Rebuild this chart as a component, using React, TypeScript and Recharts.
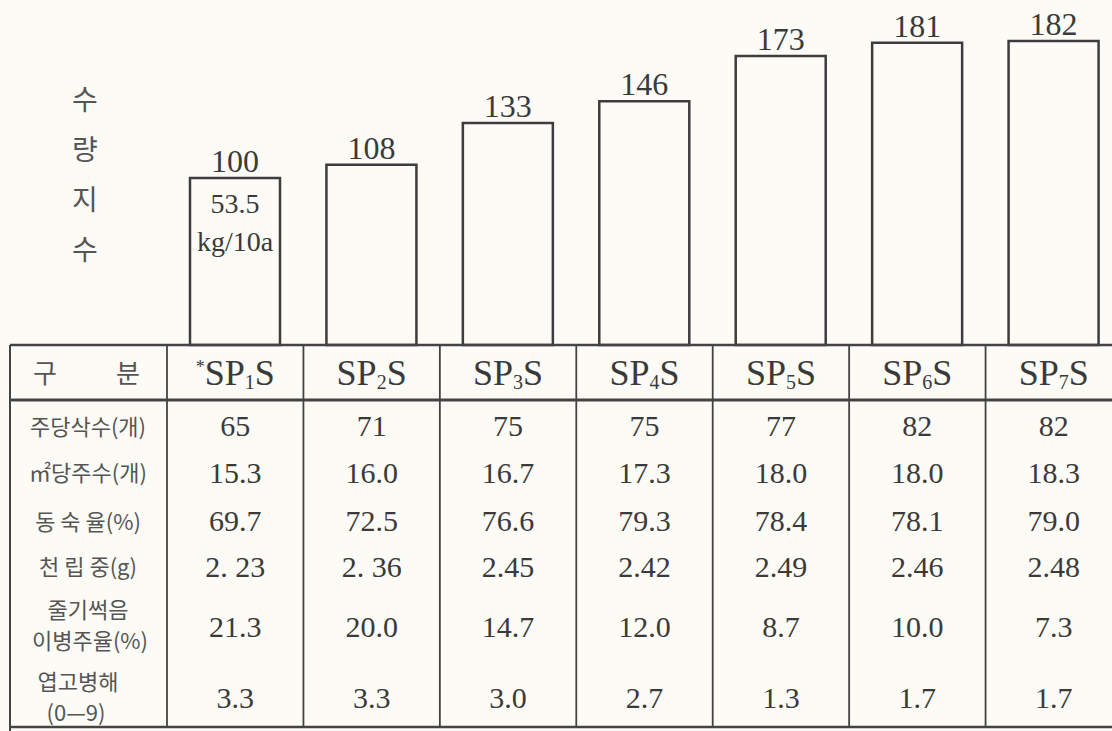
import React from "react";
import { Bar, BarChart, LabelList, XAxis, YAxis } from "recharts";

// 수량지수 (SP1S = 100)
const categories = ["SP1S", "SP2S", "SP3S", "SP4S", "SP5S", "SP6S", "SP7S"];
const yieldIndex = [100, 108, 133, 146, 173, 181, 182];
const baseYield = "53.5";
const baseYieldUnit = "kg/10a";
const yLabelChars = ["수", "량", "지", "수"];

// table rows under the bars
const rowLabels = [
  ["주당삭수(개)"],
  ["㎡당주수(개)"],
  ["동 숙 율(%)"],
  ["천 립 중(g)"],
  ["줄기썩음", "이병주율(%)"],
  ["엽고병해", "(0—9)"],
];
const seedsPerPlant = ["65", "71", "75", "75", "77", "82", "82"];
const plantsPerM2 = ["15.3", "16.0", "16.7", "17.3", "18.0", "18.0", "18.3"];
const ripeningRate = ["69.7", "72.5", "76.6", "79.3", "78.4", "78.1", "79.0"];
const grainWeight = ["2. 23", "2. 36", "2.45", "2.42", "2.49", "2.46", "2.48"];
const stemRotRate = ["21.3", "20.0", "14.7", "12.0", "8.7", "10.0", "7.3"];
const leafBlight = ["3.3", "3.3", "3.0", "2.7", "1.3", "1.7", "1.7"];
const tableRows = [seedsPerPlant, plantsPerM2, ripeningRate, grainWeight, stemRotRate, leafBlight];

const data = categories.map((name, i) => ({ name, value: yieldIndex[i] }));

const W = 1112;
const H = 731;
const MARGIN = { top: 11, right: -10, left: 167, bottom: 0 };
const AXIS_H = 386;
const colW = (W - MARGIN.left - MARGIN.right) / categories.length;

const BG = "#fcfbf6";
const INK = "#3a3a3a";
const LINE = "#444";
const SERIF = "'Liberation Serif', 'DejaVu Serif', serif";
const KR = "'Noto Sans CJK KR', sans-serif";

// offsets below the bar baseline
const HEADER_BASE = 40;
const HEADER_LINE = 55;
const ROW_Y = [80, 127, 175, 221, 281, 352];
const LABEL_Y = [[82], [128], [177], [222], [265, 296], [337, 368]];
const LABEL_X = [[88], [88], [88], [88], [88, 90], [78, 76]];
const BOTTOM = 382;

const CategoryHeader = ({ x, y, name, first }: { x: number; y: number; name: string; first: boolean }) => {
  const m = name.match(/^(SP)(\d)(S)$/);
  return (
    <text x={x} y={y} textAnchor="middle" fontFamily={SERIF} fontSize={36} fill={INK}>
      {first && (
        <tspan fontSize={18} dy={-12}>
          *
        </tspan>
      )}
      <tspan dy={first ? 12 : 0}>{m ? m[1] : name}</tspan>
      {m && (
        <tspan fontSize={20} dy={4}>
          {m[2]}
        </tspan>
      )}
      {m && <tspan dy={-4}>{m[3]}</tspan>}
    </text>
  );
};

const TableColumn = (props: any) => {
  const { x, y, payload } = props;
  const i: number = payload.index;
  const left = x - colW / 2;
  return (
    <g>
      {i === 0 && (
        <g>
          {yLabelChars.map((c, k) => (
            <text key={k} x={85} y={y - 245 + k * 50} dy="0.35em" textAnchor="middle" fontFamily={KR} fontSize={28} fill="#555">
              {c}
            </text>
          ))}
          <line x1={10} x2={W} y1={y} y2={y} stroke={LINE} strokeWidth={2.5} />
          <line x1={10} x2={W} y1={y + HEADER_LINE} y2={y + HEADER_LINE} stroke={LINE} strokeWidth={3} />
          <line x1={10} x2={W} y1={y + BOTTOM} y2={y + BOTTOM} stroke={LINE} strokeWidth={2.5} />
          <line x1={10} x2={10} y1={y} y2={H} stroke={LINE} strokeWidth={2} />
          <text x={45} y={y + HEADER_BASE - 2} textAnchor="middle" fontFamily={KR} fontSize={26} fill="#555">
            구
          </text>
          <text x={128} y={y + HEADER_BASE - 2} textAnchor="middle" fontFamily={KR} fontSize={26} fill="#555">
            분
          </text>
          {rowLabels.map((lines, r) =>
            lines.map((t, k) => (
              <text
                key={`${r}-${k}`}
                x={LABEL_X[r][k]}
                y={y + LABEL_Y[r][k]}
                dy="0.35em"
                textAnchor="middle"
                fontFamily={KR}
                fontSize={22}
                fill="#555"
              >
                {t}
              </text>
            ))
          )}
        </g>
      )}
      <line x1={left} x2={left} y1={y} y2={y + BOTTOM} stroke={LINE} strokeWidth={1.8} />
      <CategoryHeader x={x} y={y + HEADER_BASE} name={payload.value} first={i === 0} />
      {tableRows.map((row, r) => (
        <text key={r} x={x} y={y + ROW_Y[r]} dy="0.35em" textAnchor="middle" fontFamily={SERIF} fontSize={30} fill={INK}>
          {row[i]}
        </text>
      ))}
    </g>
  );
};

const BaseNote = (props: any) => {
  const { x, y, width, index } = props;
  if (index !== 0) return null;
  const cx = x + width / 2;
  return (
    <g fontFamily={SERIF} fill={INK} textAnchor="middle">
      <text x={cx} y={y + 25} dy="0.35em" fontSize={28}>
        {baseYield}
      </text>
      <text x={cx} y={y + 63} dy="0.35em" fontSize={28}>
        {baseYieldUnit}
      </text>
    </g>
  );
};

export default function App() {
  return (
    <div style={{ position: "absolute", left: 0, top: 0, width: W, height: H, background: BG, overflow: "hidden" }}>
      <BarChart width={W} height={H} data={data} margin={MARGIN}>
        <YAxis hide domain={[0, 200]} />
        <Bar dataKey="value" fill={BG} stroke="#3d3d3d" strokeWidth={2.5} barSize={90} isAnimationActive={false}>
          <LabelList dataKey="value" position="top" offset={6} fontFamily={SERIF} fontSize={32} fill={INK} />
          <LabelList dataKey="value" content={<BaseNote />} />
        </Bar>
        <XAxis
          dataKey="name"
          height={AXIS_H}
          axisLine={false}
          tickLine={false}
          tickSize={0}
          tickMargin={0}
          interval={0}
          tick={<TableColumn />}
        />
      </BarChart>
    </div>
  );
}
